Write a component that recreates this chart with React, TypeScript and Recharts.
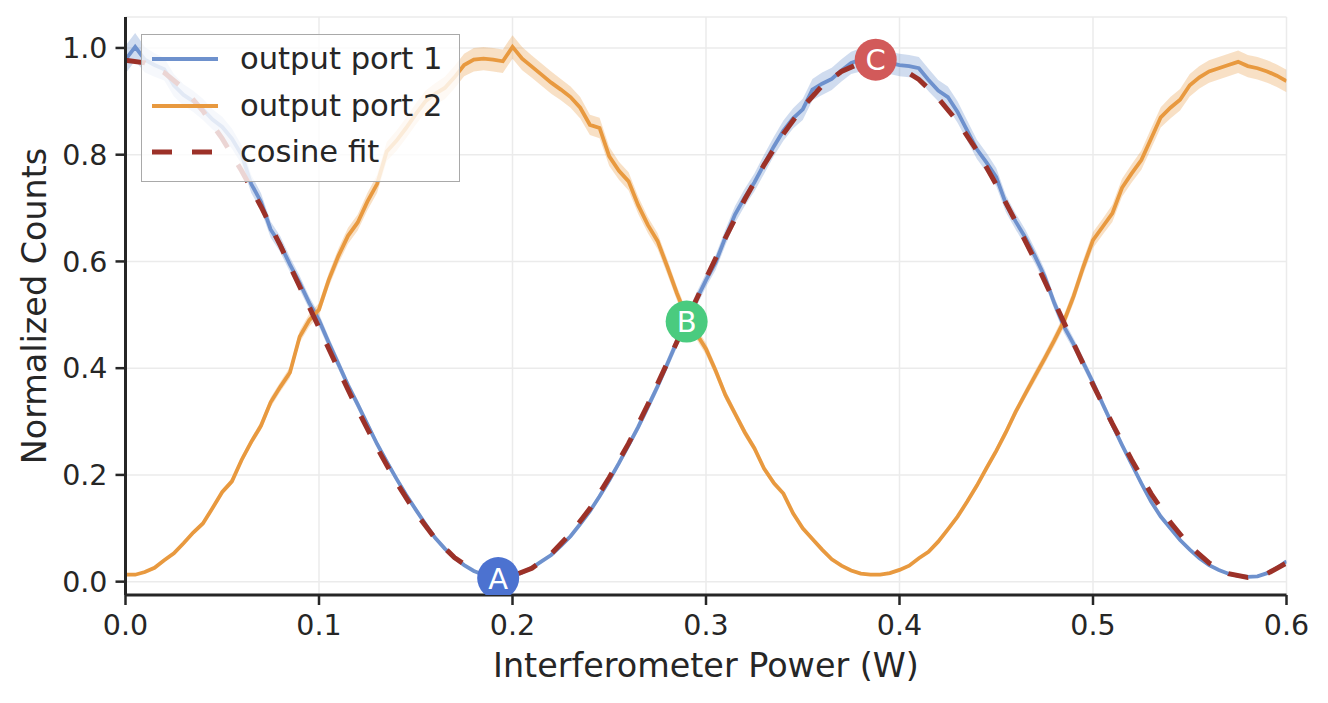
import React from 'react';
import { ComposedChart, Line, Area, Scatter, XAxis, YAxis, CartesianGrid, Legend } from 'recharts';

const powerW = [
  0, 0.005, 0.01, 0.015, 0.02, 0.025, 0.03, 0.035, 0.04, 0.045,
  0.05, 0.055, 0.06, 0.065, 0.07, 0.075, 0.08, 0.085, 0.09, 0.095,
  0.1, 0.105, 0.11, 0.115, 0.12, 0.125, 0.13, 0.135, 0.14, 0.145,
  0.15, 0.155, 0.16, 0.165, 0.17, 0.175, 0.18, 0.185, 0.19, 0.195,
  0.2, 0.205, 0.21, 0.215, 0.22, 0.225, 0.23, 0.235, 0.24, 0.245,
  0.25, 0.255, 0.26, 0.265, 0.27, 0.275, 0.28, 0.285, 0.29, 0.295,
  0.3, 0.305, 0.31, 0.315, 0.32, 0.325, 0.33, 0.335, 0.34, 0.345,
  0.35, 0.355, 0.36, 0.365, 0.37, 0.375, 0.38, 0.385, 0.39, 0.395,
  0.4, 0.405, 0.41, 0.415, 0.42, 0.425, 0.43, 0.435, 0.44, 0.445,
  0.45, 0.455, 0.46, 0.465, 0.47, 0.475, 0.48, 0.485, 0.49, 0.495,
  0.5, 0.505, 0.51, 0.515, 0.52, 0.525, 0.53, 0.535, 0.54, 0.545,
  0.55, 0.555, 0.56, 0.565, 0.57, 0.575, 0.58, 0.585, 0.59, 0.595,
  0.6,
];

const port1 = [
  0.978, 1.002, 0.978, 0.968, 0.96, 0.93, 0.912, 0.9, 0.885, 0.866,
  0.852, 0.83, 0.8, 0.745, 0.712, 0.66, 0.632, 0.594, 0.56, 0.522,
  0.49, 0.448, 0.408, 0.368, 0.332, 0.295, 0.258, 0.225, 0.193, 0.163,
  0.135, 0.108, 0.082, 0.062, 0.045, 0.031, 0.02, 0.013, 0.009, 0.008,
  0.01, 0.017, 0.026, 0.038, 0.05, 0.067, 0.085, 0.108, 0.132, 0.16,
  0.19, 0.222, 0.256, 0.29, 0.328, 0.366, 0.408, 0.45, 0.49, 0.528,
  0.565, 0.598, 0.645, 0.688, 0.72, 0.748, 0.782, 0.815, 0.845, 0.868,
  0.885, 0.922, 0.933, 0.942, 0.958, 0.972, 0.978, 0.978, 0.975, 0.972,
  0.968, 0.966, 0.962, 0.94, 0.92, 0.908, 0.88, 0.845, 0.81, 0.785,
  0.758, 0.708, 0.675, 0.645, 0.61, 0.572, 0.522, 0.478, 0.445, 0.41,
  0.373, 0.333, 0.294, 0.256, 0.22, 0.184, 0.15, 0.122, 0.1, 0.078,
  0.06, 0.044, 0.031, 0.022, 0.015, 0.011, 0.009, 0.01, 0.016, 0.025,
  0.038,
];

const port1Err = [
  0.026, 0.026, 0.024, 0.022, 0.021, 0.021, 0.02, 0.02, 0.02, 0.019,
  0.019, 0.019, 0.018, 0.017, 0.016, 0.015, 0.015, 0.014, 0.013, 0.012,
  0.012, 0.011, 0.01, 0.009, 0.009, 0.008, 0.007, 0.007, 0.006, 0.005,
  0.005, 0.004, 0.004, 0.003, 0.003, 0.003, 0.002, 0.002, 0.002, 0.002,
  0.002, 0.002, 0.003, 0.003, 0.003, 0.003, 0.004, 0.004, 0.005, 0.005,
  0.006, 0.006, 0.007, 0.008, 0.009, 0.009, 0.01, 0.011, 0.012, 0.013,
  0.013, 0.014, 0.015, 0.016, 0.016, 0.017, 0.018, 0.018, 0.019, 0.019,
  0.02, 0.02, 0.021, 0.021, 0.021, 0.021, 0.022, 0.022, 0.022, 0.021,
  0.021, 0.021, 0.021, 0.021, 0.02, 0.02, 0.02, 0.019, 0.018, 0.018,
  0.017, 0.016, 0.015, 0.015, 0.014, 0.013, 0.012, 0.012, 0.011, 0.01,
  0.009, 0.009, 0.008, 0.007, 0.006, 0.006, 0.005, 0.004, 0.004, 0.004,
  0.003, 0.003, 0.003, 0.002, 0.002, 0.002, 0.002, 0.002, 0.002, 0.003,
  0.003,
];

const port2 = [
  0.013, 0.013, 0.018, 0.026, 0.04, 0.053, 0.072, 0.092, 0.109, 0.138,
  0.168, 0.188, 0.228, 0.262, 0.292, 0.336, 0.365, 0.392, 0.459, 0.49,
  0.51, 0.565, 0.61, 0.648, 0.673, 0.712, 0.745, 0.806, 0.826, 0.85,
  0.876, 0.9, 0.914, 0.925, 0.945, 0.968, 0.978, 0.98, 0.978, 0.975,
  1.002, 0.98, 0.965, 0.95, 0.935, 0.922, 0.908, 0.888, 0.856, 0.85,
  0.797, 0.77, 0.75, 0.705, 0.668, 0.638, 0.59, 0.54, 0.495, 0.465,
  0.436, 0.395, 0.35, 0.315, 0.28, 0.25, 0.212, 0.185, 0.165, 0.128,
  0.1, 0.08, 0.06, 0.042, 0.03, 0.021, 0.015, 0.013, 0.013, 0.016,
  0.022, 0.03, 0.044, 0.056, 0.075, 0.098, 0.122, 0.15, 0.18, 0.213,
  0.245, 0.28, 0.318, 0.352, 0.385, 0.418, 0.452, 0.488, 0.535, 0.59,
  0.64, 0.665, 0.69, 0.738, 0.765, 0.79, 0.83, 0.87, 0.888, 0.903,
  0.93, 0.945, 0.956, 0.962, 0.968, 0.974, 0.966, 0.962, 0.956, 0.948,
  0.938,
];

const port2Err = [
  0.002, 0.002, 0.002, 0.003, 0.003, 0.003, 0.003, 0.004, 0.004, 0.005,
  0.005, 0.006, 0.007, 0.007, 0.008, 0.009, 0.009, 0.01, 0.011, 0.012,
  0.012, 0.013, 0.014, 0.015, 0.015, 0.016, 0.017, 0.018, 0.019, 0.019,
  0.02, 0.02, 0.02, 0.021, 0.021, 0.021, 0.022, 0.022, 0.022, 0.022,
  0.022, 0.022, 0.021, 0.021, 0.021, 0.02, 0.02, 0.02, 0.019, 0.019,
  0.018, 0.017, 0.017, 0.016, 0.015, 0.015, 0.014, 0.013, 0.012, 0.011,
  0.011, 0.01, 0.009, 0.008, 0.008, 0.007, 0.006, 0.006, 0.005, 0.005,
  0.004, 0.004, 0.003, 0.003, 0.003, 0.002, 0.002, 0.002, 0.002, 0.002,
  0.002, 0.003, 0.003, 0.003, 0.004, 0.004, 0.004, 0.005, 0.006, 0.006,
  0.007, 0.008, 0.008, 0.009, 0.01, 0.01, 0.011, 0.012, 0.013, 0.014,
  0.015, 0.015, 0.016, 0.017, 0.017, 0.018, 0.019, 0.019, 0.02, 0.02,
  0.021, 0.021, 0.021, 0.021, 0.021, 0.021, 0.021, 0.021, 0.021, 0.021,
  0.021,
];

const fitPower = [
  0, 0.01, 0.02, 0.03, 0.04, 0.05, 0.06, 0.07, 0.08, 0.09,
  0.1, 0.11, 0.12, 0.13, 0.14, 0.15, 0.16, 0.17, 0.18, 0.19,
  0.2, 0.21, 0.22, 0.23, 0.24, 0.25, 0.26, 0.27, 0.28, 0.29,
  0.3, 0.31, 0.32, 0.33, 0.34, 0.35, 0.36, 0.37, 0.38, 0.39,
  0.4, 0.41, 0.42, 0.43, 0.44, 0.45, 0.46, 0.47, 0.48, 0.49,
  0.5, 0.51, 0.52, 0.53, 0.54, 0.55, 0.56, 0.57, 0.58, 0.59,
  0.6,
];

const fitCounts = [
  0.977, 0.972, 0.954, 0.924, 0.882, 0.83, 0.77, 0.703, 0.63, 0.553,
  0.476, 0.398, 0.322, 0.251, 0.186, 0.129, 0.081, 0.045, 0.021, 0.009,
  0.011, 0.025, 0.052, 0.09, 0.137, 0.195, 0.259, 0.332, 0.41, 0.489,
  0.568, 0.644, 0.716, 0.781, 0.839, 0.889, 0.929, 0.956, 0.972, 0.975,
  0.964, 0.941, 0.906, 0.862, 0.808, 0.744, 0.675, 0.602, 0.525, 0.446,
  0.369, 0.296, 0.228, 0.165, 0.111, 0.067, 0.035, 0.015, 0.008, 0.015,
  0.035,
];

const markerPower = [0.1926, 0.29, 0.3877];
const markerCounts = [0.0067, 0.4873, 0.978];
const markerLabels = ['A', 'B', 'C'];
const markerColors = ['#4c72d0', '#4acb7f', '#d25a5a'];

const xTicks = [0, 0.1, 0.2, 0.3, 0.4, 0.5, 0.6];
const yTicks = [0, 0.2, 0.4, 0.6, 0.8, 1.0];

const seriesNames = ['output port 1', 'output port 2', 'cosine fit'];
const BLUE = '#6e91cd';
const ORANGE = '#e8993f';
const FIT = '#9c3128';
const TEXT = '#262626';
const FONT = '"DejaVu Sans", sans-serif';

const port1Rows = powerW.map((x, i) => ({ x, y: port1[i], band: [port1[i] - port1Err[i], port1[i] + port1Err[i]] }));
const port2Rows = powerW.map((x, i) => ({ x, y: port2[i], band: [port2[i] - port2Err[i], port2[i] + port2Err[i]] }));
const fitRows = fitPower.map((x, i) => ({ x, y: fitCounts[i] }));
const markerRows = markerPower.map((x, i) => ({ x, y: markerCounts[i], label: markerLabels[i], color: markerColors[i] }));

const renderMarker = (props: any) => {
  const { cx, cy, payload } = props;
  return (
    <g>
      <circle cx={cx} cy={cy} r={21} fill={payload.color} />
      <text x={cx} y={cy} dy={10.5} textAnchor="middle" fill="#ffffff" fontSize={29} fontFamily={FONT}>
        {payload.label}
      </text>
    </g>
  );
};

const renderLegend = () => {
  const rows = [
    { name: seriesNames[0], color: BLUE, dash: undefined, w: 4 },
    { name: seriesNames[1], color: ORANGE, dash: undefined, w: 4 },
    { name: seriesNames[2], color: FIT, dash: '20 20', w: 5 },
  ];
  return (
    <div
      style={{
        position: 'relative',
        width: 319,
        height: 148,
        boxSizing: 'border-box',
        border: '1px solid #a9a9a9',
        background: 'rgba(255,255,255,0.8)',
      }}
    >
      {rows.map((r, i) => (
        <div key={r.name} style={{ position: 'absolute', left: 0, top: 24.3 + i * 46.3, width: '100%', height: 0 }}>
          <svg width={70} height={10} style={{ position: 'absolute', left: 10, top: -5, overflow: 'visible' }}>
            <line x1={0} y1={5} x2={66} y2={5} stroke={r.color} strokeWidth={r.w} strokeDasharray={r.dash} />
          </svg>
          <span
            style={{
              position: 'absolute',
              left: 98,
              top: 0,
              transform: 'translateY(-50%)',
              fontFamily: FONT,
              fontSize: 30.6,
              lineHeight: 1,
              color: TEXT,
              whiteSpace: 'nowrap',
            }}
          >
            {r.name}
          </span>
        </div>
      ))}
    </div>
  );
};

export default function App() {
  return (
    <ComposedChart width={1312} height={680} margin={{ top: 9, right: 33.5, bottom: 0, left: 0 }}>
      <CartesianGrid stroke="#ebebeb" strokeWidth={1.5} />
      <XAxis
        type="number"
        dataKey="x"
        domain={[0, 0.6]}
        ticks={xTicks}
        allowDataOverflow
        tickFormatter={(v: number) => v.toFixed(1)}
        height={93}
        tickSize={10}
        tickMargin={10}
        axisLine={{ stroke: TEXT, strokeWidth: 3 }}
        tickLine={{ stroke: TEXT, strokeWidth: 2.5 }}
        tick={{ fill: TEXT, fontSize: 28.5, fontFamily: FONT }}
        label={(p: any) => (
          <text x={p.viewBox.x + p.viewBox.width / 2} y={p.viewBox.y + 82} textAnchor="middle" fill={TEXT} fontSize={33.4} fontFamily={FONT}>
            Interferometer Power (W)
          </text>
        )}
      />
      <YAxis
        type="number"
        domain={[-0.025, 1.058]}
        ticks={yTicks}
        allowDataOverflow
        tickFormatter={(v: number) => v.toFixed(1)}
        width={117.5}
        tickSize={10}
        tickMargin={8}
        axisLine={{ stroke: TEXT, strokeWidth: 3 }}
        tickLine={{ stroke: TEXT, strokeWidth: 2.5 }}
        tick={{ fill: TEXT, fontSize: 28.5, fontFamily: FONT }}
        label={(p: any) => {
          const cy = p.viewBox.y + p.viewBox.height / 2;
          return (
            <text x={38} y={cy} transform={`rotate(-90, 38, ${cy})`} textAnchor="middle" fill={TEXT} fontSize={33.4} fontFamily={FONT}>
              Normalized Counts
            </text>
          );
        }}
      />
      <Area data={port1Rows} dataKey="band" type="linear" stroke="none" fill={BLUE} fillOpacity={0.32} isAnimationActive={false} legendType="none" />
      <Line data={port1Rows} dataKey="y" type="linear" stroke={BLUE} strokeWidth={3.8} dot={false} activeDot={false} isAnimationActive={false} name={seriesNames[0]} />
      <Area data={port2Rows} dataKey="band" type="linear" stroke="none" fill={ORANGE} fillOpacity={0.3} isAnimationActive={false} legendType="none" />
      <Line data={port2Rows} dataKey="y" type="linear" stroke={ORANGE} strokeWidth={3.8} dot={false} activeDot={false} isAnimationActive={false} name={seriesNames[1]} />
      <Line data={fitRows} dataKey="y" type="linear" stroke={FIT} strokeWidth={5} strokeDasharray="20 20" dot={false} activeDot={false} isAnimationActive={false} name={seriesNames[2]} />
      <Scatter data={markerRows} dataKey="y" shape={renderMarker} isAnimationActive={false} legendType="none" />
      <Legend
        layout="horizontal"
        verticalAlign="middle"
        align="center"
        content={renderLegend}
        wrapperStyle={{ position: 'absolute', left: 133, top: 26, width: 319, height: 148 }}
      />
    </ComposedChart>
  );
}
